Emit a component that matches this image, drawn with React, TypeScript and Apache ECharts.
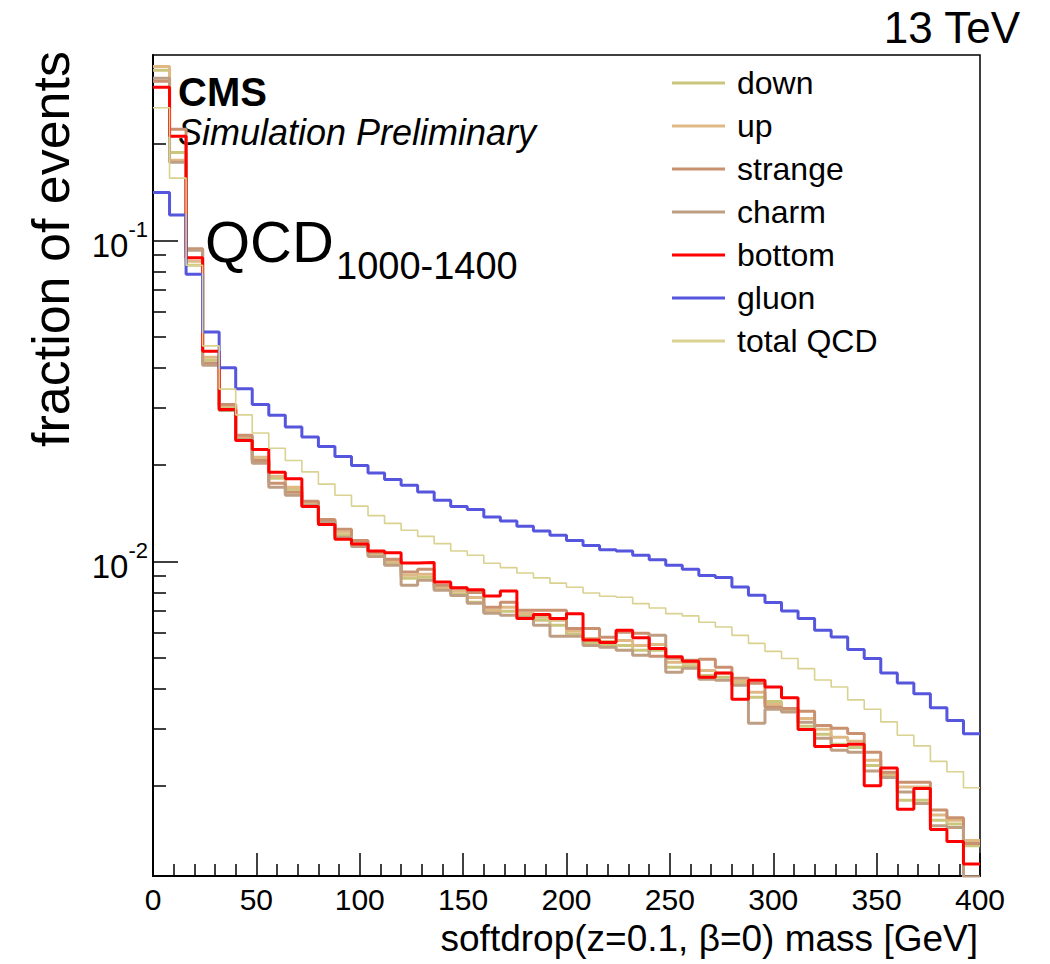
import React, { useEffect, useRef } from 'react';
import * as echarts from 'echarts';

const FONT = '"Liberation Sans", Arial, Helvetica, sans-serif';

// binning: 50 bins of 8 GeV from 0 to 400
const BIN_WIDTH = 8;
const N_BINS = 50;
const BIN_EDGES: number[] = Array.from({ length: N_BINS + 1 }, (_, i) => i * BIN_WIDTH);

const X_MIN = 0;
const X_MAX = 400;
const X_INTERVAL = 50;
const Y_MIN = 0.001046;
const Y_MAX = 0.378;
const Y_MAJOR_TICKS = [0.01, 0.1];
const Y_MINOR_TICKS = [
  0.002, 0.003, 0.004, 0.005, 0.006, 0.007, 0.008, 0.009,
  0.02, 0.03, 0.04, 0.05, 0.06, 0.07, 0.08, 0.09,
  0.2, 0.3,
];

const SERIES_NAMES = ['down', 'up', 'strange', 'charm', 'bottom', 'gluon', 'total QCD'];
const SERIES_COLORS = ['#CBC67E', '#DFB985', '#C9916F', '#BE9F84', '#FF0000', '#5555DD', '#D9D290'];
const SERIES_WIDTHS = [3, 3, 3, 3, 3, 3, 1.6];

const DOWN = [
  0.339, 0.1879, 0.0836, 0.0423, 0.0302, 0.0242, 0.0208, 0.01814, 0.01676, 0.01505,
  0.01332, 0.01205, 0.0113, 0.01051, 0.00986, 0.00885, 0.00892, 0.00818, 0.00789, 0.00745,
  0.00694, 0.00699, 0.00679, 0.00655, 0.00632, 0.00592, 0.00559, 0.00547, 0.00547, 0.00528,
  0.00528, 0.00468, 0.00471, 0.00441, 0.00435, 0.00417, 0.00377, 0.00366, 0.00341, 0.00306,
  0.00289, 0.00269, 0.00263, 0.00231, 0.00214, 0.0018, 0.0018, 0.00156, 0.00152, 0.0013,
];
const UP = [
  0.348, 0.1775, 0.086, 0.0432, 0.0306, 0.0243, 0.0211, 0.0184, 0.017, 0.01527,
  0.01341, 0.01231, 0.01146, 0.01059, 0.01, 0.00905, 0.00911, 0.0083, 0.00806, 0.00772,
  0.00704, 0.00719, 0.00689, 0.00669, 0.00655, 0.00605, 0.00575, 0.00563, 0.00567, 0.00547,
  0.00551, 0.00485, 0.00481, 0.00457, 0.00448, 0.00423, 0.00391, 0.00358, 0.00346, 0.00324,
  0.003, 0.00283, 0.00275, 0.0024, 0.00217, 0.00198, 0.00198, 0.00162, 0.00156, 0.00135,
];
const STRANGE = [
  0.313, 0.2218, 0.0942, 0.0414, 0.0308, 0.0247, 0.0206, 0.0175, 0.0164, 0.01538,
  0.01351, 0.01258, 0.01162, 0.01067, 0.01014, 0.00926, 0.00944, 0.00842, 0.00824, 0.008,
  0.00719, 0.00745, 0.00704, 0.00704, 0.00704, 0.00618, 0.00618, 0.0058, 0.00601, 0.00597,
  0.00506, 0.00499, 0.00492, 0.00495, 0.00468, 0.00432, 0.00417, 0.00351, 0.00348, 0.00341,
  0.00308, 0.00302, 0.00291, 0.00254, 0.0022, 0.00205, 0.00205, 0.00168, 0.00159, 0.00132,
];
const CHARM = [
  0.32, 0.175, 0.0931, 0.0408, 0.0295, 0.024, 0.0202, 0.017, 0.01606, 0.01494,
  0.01322, 0.01188, 0.01113, 0.01036, 0.00972, 0.00842, 0.00873, 0.00812, 0.00783, 0.0074,
  0.00689, 0.00679, 0.00669, 0.00632, 0.00584, 0.00584, 0.00547, 0.0054, 0.00528, 0.0051,
  0.00588, 0.00451, 0.00464, 0.00429, 0.00426, 0.00411, 0.00313, 0.00346, 0.00339, 0.00315,
  0.00281, 0.00258, 0.00254, 0.00222, 0.00212, 0.00191, 0.00176, 0.0015, 0.00148, 0.00104,
];
const BOTTOM = [
  0.3, 0.211, 0.0883, 0.0451, 0.0297, 0.0238, 0.0223, 0.01894, 0.01809, 0.01483,
  0.01303, 0.01171, 0.01133, 0.01077, 0.01064, 0.00988, 0.00991, 0.00862, 0.00827, 0.00816,
  0.00779, 0.00808, 0.00663, 0.00683, 0.00663, 0.00687, 0.00569, 0.00559, 0.0061, 0.00578,
  0.00535, 0.00504, 0.00488, 0.00435, 0.00449, 0.00372, 0.00426, 0.00406, 0.00376, 0.00299,
  0.00265, 0.00267, 0.00269, 0.002, 0.00227, 0.00169, 0.00196, 0.00146, 0.00134, 0.00114,
];
const GLUON = [
  0.141, 0.12, 0.0784, 0.0518, 0.0401, 0.0345, 0.0308, 0.0285, 0.0262, 0.0244,
  0.0228, 0.0212, 0.0199, 0.01884, 0.018, 0.01725, 0.01644, 0.01549, 0.01483, 0.01449,
  0.01374, 0.01335, 0.01286, 0.01243, 0.01205, 0.01162, 0.01121, 0.01087, 0.01077, 0.01044,
  0.01012, 0.00972, 0.00944, 0.00904, 0.0089, 0.00832, 0.00784, 0.00744, 0.007, 0.00663,
  0.0061, 0.00581, 0.00531, 0.00498, 0.00449, 0.00418, 0.00387, 0.0035, 0.00319, 0.0029,
];
const TOTAL_QCD = [
  0.259, 0.1563, 0.0836, 0.0469, 0.0344, 0.0286, 0.0251, 0.0225, 0.0206, 0.019,
  0.0174, 0.01606, 0.01486, 0.01388, 0.01313, 0.01249, 0.01196, 0.01135, 0.01077, 0.01044,
  0.00986, 0.00956, 0.0092, 0.00888, 0.00855, 0.0083, 0.00797, 0.00778, 0.00773, 0.00738,
  0.00715, 0.00687, 0.00676, 0.00646, 0.00624, 0.00588, 0.00555, 0.00524, 0.00498, 0.00463,
  0.00427, 0.00406, 0.0037, 0.00346, 0.00316, 0.00287, 0.00266, 0.00238, 0.00221, 0.00197,
];
const SERIES_VALUES = [DOWN, UP, STRANGE, CHARM, BOTTOM, GLUON, TOTAL_QCD];

function toSteps(values: number[]): number[][] {
  const pts = values.map((v, i) => [BIN_EDGES[i], v]);
  pts.push([BIN_EDGES[values.length], values[values.length - 1]]);
  return pts;
}

export default function App() {
  const ref = useRef<HTMLDivElement>(null);
  useEffect(() => {
    if (!ref.current) return;
    const chart = echarts.init(ref.current, undefined, { renderer: 'svg' });
    const yLabelFormatter = (v: number) => {
      const l = Math.log10(v);
      const e = Math.round(l);
      if (Math.abs(l - e) > 1e-6) return '';
      return `{b|10}{s|${e}}`;
    };
    const option: any = {
      animation: false,
      backgroundColor: '#fff',
      grid: {
        left: 153, top: 55, width: 827, height: 821,
        show: true, borderColor: '#000', borderWidth: 1.5, containLabel: false,
      },
      xAxis: {
        type: 'value', min: X_MIN, max: X_MAX, interval: X_INTERVAL,
        name: 'softdrop(z=0.1, β=0) mass [GeV]',
        nameLocation: 'end', nameGap: -2,
        nameTextStyle: {
          fontFamily: FONT, fontSize: 37, color: '#000',
          align: 'right', verticalAlign: 'top', padding: [44, 0, 0, 0],
        },
        axisLine: { show: true, onZero: false, lineStyle: { color: '#000', width: 2 } },
        axisTick: { show: true, inside: true, length: 23, lineStyle: { color: '#000', width: 1.5 } },
        minorTick: { show: true, splitNumber: 5, length: 12, lineStyle: { color: '#000', width: 1.5 } },
        axisLabel: { show: true, fontFamily: FONT, fontSize: 30, color: '#000', margin: 8 },
        splitLine: { show: false },
        minorSplitLine: { show: false },
      },
      yAxis: [
        {
          type: 'log', logBase: 10, min: Y_MIN, max: Y_MAX, position: 'left',
          axisLine: { show: true, lineStyle: { color: '#000', width: 2 } },
          axisTick: { show: true, inside: true, length: 25, customValues: Y_MAJOR_TICKS, lineStyle: { color: '#000', width: 1.5 } },
          axisLabel: {
            show: true, customValues: Y_MAJOR_TICKS, margin: 5, color: '#000',
            fontFamily: FONT, fontSize: 32,
            formatter: yLabelFormatter,
            rich: {
              b: { fontFamily: FONT, fontSize: 33, color: '#000', padding: [10, 0, 0, 0] },
              s: { fontFamily: FONT, fontSize: 22, color: '#000', verticalAlign: 'top' },
            },
          },
          splitLine: { show: false },
        },
        {
          type: 'log', logBase: 10, min: Y_MIN, max: Y_MAX, position: 'left', offset: 0,
          axisLine: { show: false },
          axisTick: { show: true, inside: true, length: 13, customValues: Y_MINOR_TICKS, lineStyle: { color: '#000', width: 1.5 } },
          axisLabel: { show: false },
          splitLine: { show: false },
        },
      ],
      legend: {
        orient: 'vertical', left: 672, top: 66, padding: 0,
        icon: 'rect', itemWidth: 53, itemHeight: 3, itemGap: 9,
        data: SERIES_NAMES,
        textStyle: { fontFamily: FONT, fontSize: 32, lineHeight: 34, color: '#000', padding: [0, 0, 0, 7] },
      },
      series: SERIES_NAMES.map((name, i) => ({
        name, type: 'line', step: 'end', yAxisIndex: 0,
        symbol: 'none', showSymbol: false,
        lineStyle: { color: SERIES_COLORS[i], width: SERIES_WIDTHS[i] },
        itemStyle: { color: SERIES_COLORS[i] },
        emphasis: { disabled: true },
        data: toSteps(SERIES_VALUES[i]),
      })),
      graphic: [
        { type: 'text', x: 1020, y: 27, style: { text: '13 TeV', font: `44px ${FONT}`, fill: '#000', textAlign: 'right', textVerticalAlign: 'middle' } },
        { type: 'text', x: 178, y: 92, style: { text: 'CMS', font: `bold 40px ${FONT}`, lineHeight: 34, fill: '#000', textAlign: 'left', textVerticalAlign: 'middle' } },
        { type: 'text', x: 178, y: 132, style: { text: 'Simulation Preliminary', font: `italic 36px ${FONT}`, lineHeight: 34, fill: '#000', textAlign: 'left', textVerticalAlign: 'middle' } },
        { type: 'text', x: 205, y: 241, style: { text: 'QCD', font: `58px ${FONT}`, fill: '#000', textAlign: 'left', textVerticalAlign: 'middle' } },
        { type: 'text', x: 336, y: 266, style: { text: '1000-1400', font: `38px ${FONT}`, fill: '#000', textAlign: 'left', textVerticalAlign: 'middle' } },
        { type: 'text', x: 51, y: 447, rotation: Math.PI / 2, style: { text: 'fraction of events', font: `52px ${FONT}`, fill: '#000', textAlign: 'left', textVerticalAlign: 'middle' } },
      ],
    };
    chart.setOption(option);
    return () => chart.dispose();
  }, []);
  return (
    <div
      ref={ref}
      style={{ position: 'absolute', left: 0, top: 0, width: 1050, height: 964, background: '#fff' }}
    />
  );
}
